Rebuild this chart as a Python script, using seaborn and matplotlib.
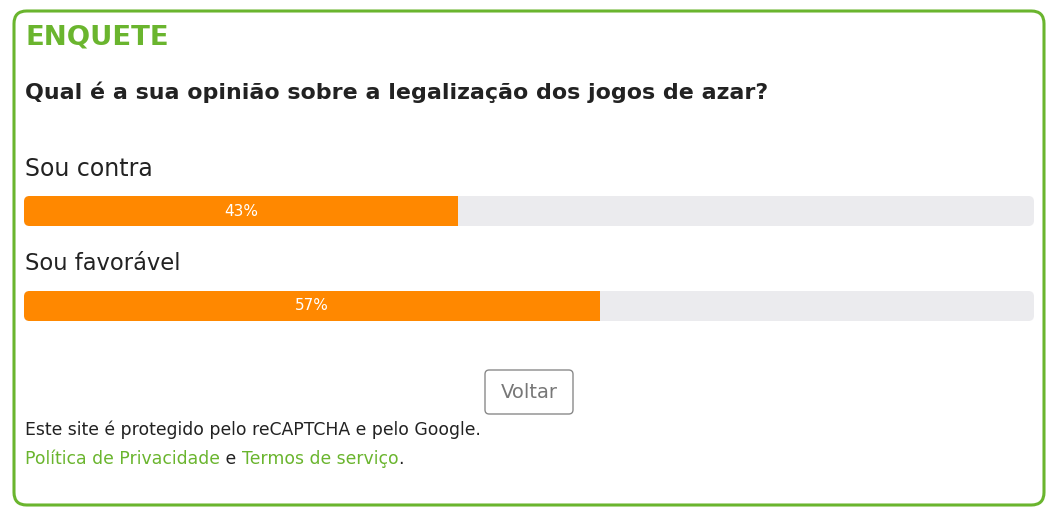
import numpy as np
import pandas as pd
import seaborn as sns
from matplotlib import pyplot as plt
from matplotlib.patches import FancyBboxPatch

W, H = 1055, 511

titulo = 'ENQUETE'
pergunta = 'Qual é a sua opinião sobre a legalização dos jogos de azar?'
opcoes = ['Sou contra', 'Sou favorável']
percentuais = [43, 57]
botao = 'Voltar'
rodape = 'Este site é protegido pelo reCAPTCHA e pelo Google.'
links = ['Política de Privacidade', ' e ', 'Termos de serviço', '.']

VERDE = '#6ab52e'
LARANJA = '#ff8800'
TRILHA = '#ebebee'
TEXTO = '#222222'

sns.set_theme(style='white')
plt.rcParams['font.family'] = ['DejaVu Sans']


def px(x, y):
    """Converte pixels (origem no topo) para coordenadas da figura."""
    return x / W, 1 - y / H


fig = plt.figure(figsize=(W / 100, H / 100), dpi=100)
fig.patch.set_facecolor('white')
renderer = fig.canvas.get_renderer()


def texto(x, y, s, largura=None, **kw):
    """Escreve texto em pixels; se largura for dada, ajusta o tamanho da fonte."""
    t = fig.text(*px(x, y), s, **kw)
    if largura:
        bb = t.get_window_extent(renderer=renderer)
        t.set_fontsize(t.get_fontsize() * largura / bb.width)
    return t


# moldura verde arredondada
moldura = FancyBboxPatch(px(14, 505), 1030 / W, 494 / H,
                         boxstyle='round,pad=0,rounding_size=0.012',
                         mutation_aspect=W / H,
                         transform=fig.transFigure, fill=False,
                         edgecolor=VERDE, linewidth=2.2)
fig.patches.append(moldura)

texto(25, 38, titulo, largura=143, color=VERDE, fontsize=20, fontweight='bold',
      va='center', ha='left')
texto(25, 92, pergunta, largura=743, color=TEXTO, fontsize=15, fontweight='bold',
      va='center', ha='left')

# eixo das barras
x0, x1, y0, y1 = 24, 1034, 196, 321
ax = fig.add_axes([x0 / W, 1 - y1 / H, (x1 - x0) / W, (y1 - y0) / H])
df = pd.DataFrame({'opcao': opcoes, 'pct': percentuais, 'total': [100] * len(opcoes)})
larg = 30 / 95

sns.barplot(data=df, y='opcao', x='total', color=TRILHA, width=larg,
            orient='h', ax=ax, saturation=1)
n_trilha = len(ax.patches)
sns.barplot(data=df, y='opcao', x='pct', color=LARANJA, width=larg,
            orient='h', ax=ax, saturation=1)

ax.set_xlim(0, 100)
ax.set_ylim(len(opcoes) - 1 + larg / 2, -larg / 2)
ax.axis('off')

aspecto = 10.1 / 95
trilhas = []
for p in ax.patches[:n_trilha]:
    r = FancyBboxPatch((p.get_x(), p.get_y()), p.get_width(), p.get_height(),
                       boxstyle='round,pad=0,rounding_size=0.55',
                       mutation_aspect=aspecto, facecolor=TRILHA,
                       edgecolor='none', zorder=1)
    ax.add_patch(r)
    trilhas.append(r)
    p.set_visible(False)

for p, t, val in zip(ax.patches[n_trilha:n_trilha + len(opcoes)], trilhas, percentuais):
    p.set_zorder(2)
    p.set_edgecolor('none')
    p.set_clip_path(t)
    ax.text(p.get_width() / 2, p.get_y() + p.get_height() / 2, f'{val}%',
            color='white', fontsize=11, ha='center', va='center', zorder=3)

texto(25, 169, opcoes[0], largura=128, color=TEXTO, fontsize=15,
      va='center', ha='left')
texto(25, 264, opcoes[1], largura=156, color=TEXTO, fontsize=15,
      va='center', ha='left')

# botão Voltar
bt = FancyBboxPatch(px(485, 414), 88 / W, 44 / H,
                    boxstyle='round,pad=0,rounding_size=0.004',
                    mutation_aspect=W / H, transform=fig.transFigure,
                    facecolor='white', edgecolor='#8a8a8a', linewidth=1)
fig.patches.append(bt)
fig.text(*px(529, 392), botao, color='#777777', fontsize=14,
         ha='center', va='center')

rod = texto(25, 430, rodape, largura=456, color=TEXTO, fontsize=10.5,
            fontweight='medium', ha='left', va='center')
tam = rod.get_fontsize()

# linha de links com cores alternadas
xpos = 25
for txt, cor in zip(links, [VERDE, TEXTO, VERDE, TEXTO]):
    t = fig.text(*px(xpos, 459), txt, color=cor, fontsize=tam,
                 fontweight='medium', ha='left', va='center')
    bb = t.get_window_extent(renderer=renderer)
    xpos += bb.width

fig.savefig('out.png', dpi=100, facecolor='white')
